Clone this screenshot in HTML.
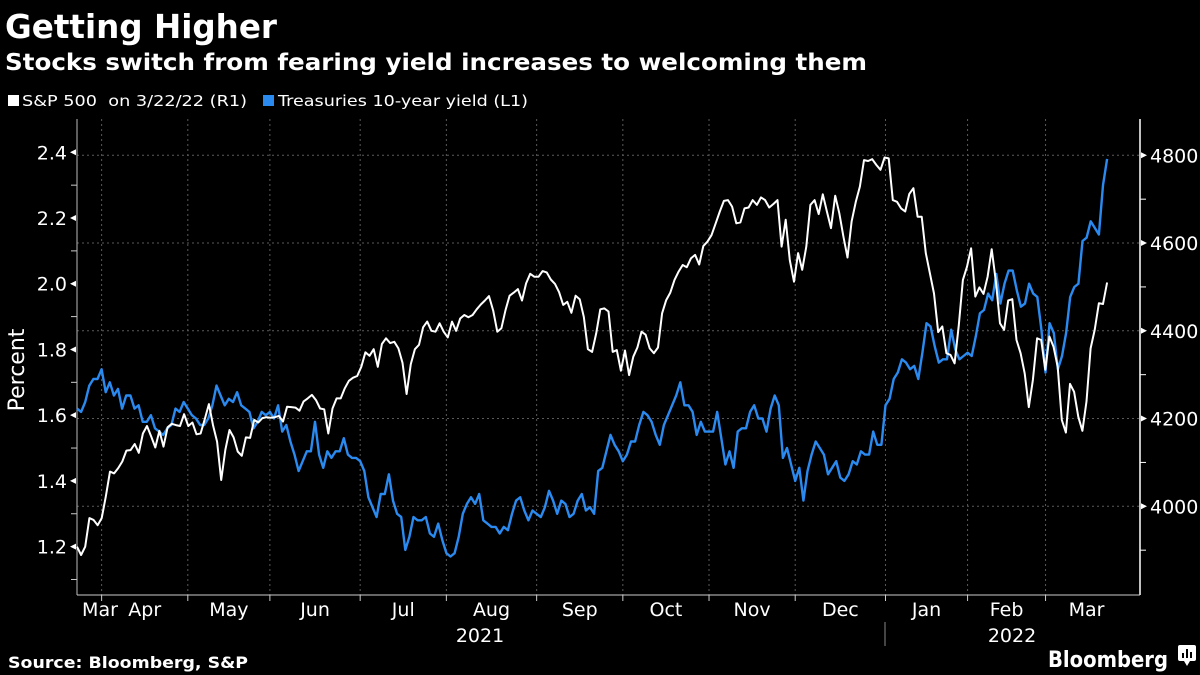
<!DOCTYPE html>
<html><head><meta charset="utf-8"><style>
html,body{margin:0;padding:0;background:#000;}
svg{display:block;}
text{font-family:"DejaVu Sans","Liberation Sans",sans-serif;fill:#fff;}
</style></head><body>
<svg id="chart" width="1200" height="675" viewBox="0 0 1200 675" xmlns="http://www.w3.org/2000/svg">
<rect x="0" y="0" width="1200" height="675" fill="#000"/>
<text x="5" y="38" font-size="33" font-weight="bold" textLength="272" lengthAdjust="spacingAndGlyphs">Getting Higher</text>
<text x="5" y="70" font-size="23" font-weight="bold" textLength="862" lengthAdjust="spacingAndGlyphs">Stocks switch from fearing yield increases to welcoming them</text>
<g>
<g><rect x="8" y="95" width="11" height="11" fill="#fff"/><text x="22" y="106" font-size="15" textLength="225" lengthAdjust="spacingAndGlyphs">S&amp;P 500&#160; on 3/22/22 (R1)</text></g>
<g><rect x="263" y="95" width="11" height="11" fill="#2a8af0"/><text x="278" y="106" font-size="15" textLength="250" lengthAdjust="spacingAndGlyphs">Treasuries 10-year yield (L1)</text></g>
</g>
<g id="grid"></g>
<g id="axes"></g>
<g id="series"></g>
<text x="0" y="0" font-size="22" transform="translate(24,370) rotate(-90)" text-anchor="middle">Percent</text>
<text x="480" y="642" font-size="19" text-anchor="middle">2021</text>
<text x="1012" y="642" font-size="19" text-anchor="middle">2022</text>
<line x1="885" y1="622" x2="885" y2="646" stroke="#888" stroke-width="1"/>
<text x="8" y="668" font-size="16" font-weight="bold" font-family="Liberation Sans" textLength="240" lengthAdjust="spacingAndGlyphs">Source: Bloomberg, S&amp;P</text>
<text x="1048" y="667" font-size="22" font-weight="bold" textLength="120" lengthAdjust="spacingAndGlyphs">Bloomberg</text>
<g><rect x="1178" y="645" width="18" height="16" rx="2" fill="#fff"/><path d="M1184 661 L1187 666 L1190 661 Z" fill="#fff"/><rect x="1182" y="653" width="2" height="5" fill="#000"/><rect x="1186" y="649" width="2" height="9" fill="#000"/><rect x="1190" y="652" width="2" height="6" fill="#000"/></g>
</svg>
<script>
const spxValues=[3908,3889,3908,3973,3969,3957,3973,4022,4079,4075,4087,4102,4127,4128,4142,4122,4166,4183,4159,4134,4172,4136,4180,4188,4185,4183,4210,4183,4191,4164,4166,4198,4233,4185,4147,4060,4128,4174,4157,4125,4115,4157,4156,4197,4191,4201,4203,4202,4203,4206,4193,4227,4226,4225,4218,4239,4246,4254,4242,4223,4221,4166,4223,4246,4246,
4269,4286,4293,4297,4318,4351,4343,4358,4318,4370,4383,4372,4375,4360,4327,4256,4324,4358,4368,4408,4421,4400,4398,4417,4398,4385,4421,4400,4428,4436,4431,4436,4449,4460,4469,4479,4446,4398,4406,4447,4480,4487,4495,4469,4508,4530,4523,4523,4536,4533,4517,4507,4488,4459,4466,4441,4480,4472,4432,4358,4352,4394,4449,4451,
4444,4352,4356,4309,4355,4299,4341,4362,4398,4391,4360,4349,4362,4440,4470,4487,4516,4535,4550,4545,4565,4573,4551,4593,4603,4618,4645,4672,4696,4698,4683,4645,4647,4679,4681,4698,4687,4704,4698,4681,4689,4698,4592,4653,4561,4512,4577,4539,4592,4687,4698,4666,4711,4672,4634,4708,4668,4615,4567,4649,4694,4729,4789,
4787,4791,4778,4767,4795,4793,4698,4694,4679,4672,4712,4725,4660,4660,4577,4531,4485,4397,4410,4349,4345,4326,4413,4516,4546,4588,4478,4499,4484,4523,4586,4512,4417,4402,4469,4472,4379,4349,4303,4226,4288,4383,4379,4311,4387,4364,4318,4197,4168,4279,4261,4204,4172,4239,4360,4402,4463,4461,4510];
const yieldValues=[1.62,1.61,1.64,1.69,1.71,1.71,1.74,1.67,1.70,1.66,1.68,1.62,1.66,1.66,1.62,1.63,1.58,1.58,1.60,1.56,1.55,1.54,1.56,1.57,1.62,1.61,1.64,1.62,1.60,1.59,1.57,1.57,1.59,1.63,1.69,1.66,1.63,1.65,1.64,1.67,1.63,1.62,1.61,1.56,1.58,1.61,1.60,1.61,1.59,1.63,1.55,1.57,1.52,1.48,1.43,1.46,1.49,1.49,1.58,1.48,1.44,1.49,1.47,1.49,
1.49,1.53,1.48,1.47,1.47,1.46,1.43,1.35,1.32,1.29,1.36,1.36,1.42,1.34,1.30,1.29,1.19,1.23,1.29,1.28,1.28,1.29,1.24,1.23,1.27,1.22,1.18,1.17,1.18,1.23,1.30,1.33,1.35,1.33,1.36,1.28,1.27,1.26,1.26,1.24,1.26,1.25,1.30,1.34,1.35,1.31,1.28,1.31,1.30,1.29,1.32,1.37,1.34,1.30,1.34,1.33,1.29,1.30,1.34,1.36,1.31,1.32,1.30,1.43,
1.44,1.49,1.54,1.51,1.49,1.46,1.48,1.52,1.52,1.57,1.61,1.60,1.58,1.54,1.51,1.57,1.60,1.63,1.66,1.70,1.63,1.63,1.61,1.54,1.58,1.55,1.55,1.55,1.61,1.53,1.45,1.49,1.44,1.55,1.56,1.56,1.61,1.63,1.59,1.59,1.55,1.62,1.66,1.63,1.47,1.50,1.45,1.40,1.44,1.34,1.43,1.48,1.52,1.50,1.48,1.42,1.44,1.46,1.41,1.40,1.42,1.46,1.45,1.49,1.48,
1.48,1.55,1.51,1.51,1.63,1.65,1.71,1.73,1.77,1.76,1.74,1.75,1.71,1.79,1.88,1.87,1.81,1.76,1.77,1.77,1.86,1.80,1.77,1.78,1.79,1.78,1.84,1.91,1.92,1.97,1.95,2.03,1.94,2.00,2.04,2.04,1.98,1.93,1.94,2.00,1.97,1.96,1.86,1.73,1.88,1.85,1.74,1.78,1.85,1.96,1.99,2.00,2.13,2.14,2.19,2.17,2.15,2.30,2.38];
const monthLabels=["Mar","Apr","May","Jun","Jul","Aug","Sep","Oct","Nov","Dec","Jan","Feb","Mar"];
const monthLabelDays=[5.6,16.5,37,58,79.5,101,122.5,143.5,164.5,186,207,226.5,246];
const monthStartDays=[6,27,47,69,90,112,133,154,175,197,217,236];
const leftTicks=[1.2,1.4,1.6,1.8,2.0,2.2,2.4];
const leftMinor=[1.1,1.3,1.5,1.7,1.9,2.1,2.3];
const rightTicks=[4000,4200,4400,4600,4800];
const rightMinor=[3900,4100,4300,4500,4700];
const lastDay=251;

const NS="http://www.w3.org/2000/svg";
const X0=77,X1=1140,YT=119,YB=595;
function xDay(d){return X0+d*4.104;}
function yL(v){return 152.3+(2.4-v)*328.6;}
function yR(v){return 155.3+(4800-v)*0.43875;}
function mk(tag,attrs,parent){const e=document.createElementNS(NS,tag);for(const k in attrs)e.setAttribute(k,attrs[k]);parent.appendChild(e);return e;}
const grid=document.getElementById('grid'),axes=document.getElementById('axes'),series=document.getElementById('series');

rightTicks.forEach(v=>{const y=yR(v);
 const l=mk('line',{x1:X0,x2:X1,y1:y,y2:y,stroke:'#5a5a5a','stroke-width':1,'stroke-dasharray':'2,3'},grid);
 
 
 const t=mk('path',{d:`M${X1+1} ${y-3} L${X1+7} ${y} L${X1+1} ${y+3} Z`,fill:'#fff'},axes);
 
 
 const tx=mk('text',{x:X1+10,y:y+7,'font-size':19},axes);tx.textContent=String(v);
 
 
});
rightMinor.forEach(v=>{const y=yR(v);
 const l=mk('line',{x1:X1,x2:X1+6,y1:y,y2:y,stroke:'#fff','stroke-width':1},axes);
 
 
});
monthStartDays.forEach(d=>{const x=xDay(d);
 const l=mk('line',{x1:x,x2:x,y1:YT,y2:YB,stroke:'#5a5a5a','stroke-width':1,'stroke-dasharray':'2,3'},grid);
 
 
 const t=mk('line',{x1:x,x2:x,y1:YB,y2:YB+6,stroke:'#ccc','stroke-width':1},axes);
 
 
});
monthLabels.forEach((m,i)=>{
 const t=mk('text',{x:xDay(monthLabelDays[i]),y:616,'font-size':19,'text-anchor':'middle'},axes);t.textContent=m;
 
 
});
leftTicks.forEach(v=>{const y=yL(v);
 const t=mk('path',{d:`M${X0-1} ${y-3} L${X0-7} ${y} L${X0-1} ${y+3} Z`,fill:'#fff'},axes);
 
 
 const tx=mk('text',{x:X0-10,y:y+7,'font-size':19,'text-anchor':'end'},axes);tx.textContent=v.toFixed(1);
 
 
});
leftMinor.forEach(v=>{const y=yL(v);
 const l=mk('line',{x1:X0-6,x2:X0,y1:y,y2:y,stroke:'#ccc','stroke-width':1},axes);
 
 
});
const la=mk('line',{x1:X0,x2:X0,y1:YT,y2:YB,stroke:'#bbb','stroke-width':1},axes);


const ra=mk('line',{x1:X1,x2:X1,y1:YT,y2:YB,stroke:'#fff','stroke-width':1.5},axes);


const ba=mk('line',{x1:X0,x2:X1,y1:YB,y2:YB,stroke:'#ccc','stroke-width':1},axes);



function linePath(vals,yf){const n=vals.length;return vals.map((v,i)=>(i?'L':'M')+xDay(i*lastDay/(n-1)).toFixed(1)+' '+yf(v).toFixed(1)).join(' ');}
const py=mk('path',{d:linePath(yieldValues,yL),fill:'none',stroke:'#2a8af0','stroke-width':2.4,'stroke-linejoin':'round'},series);


const ps=mk('path',{d:linePath(spxValues,yR),fill:'none',stroke:'#fff','stroke-width':2,'stroke-linejoin':'round'},series);


</script>
</body></html>
